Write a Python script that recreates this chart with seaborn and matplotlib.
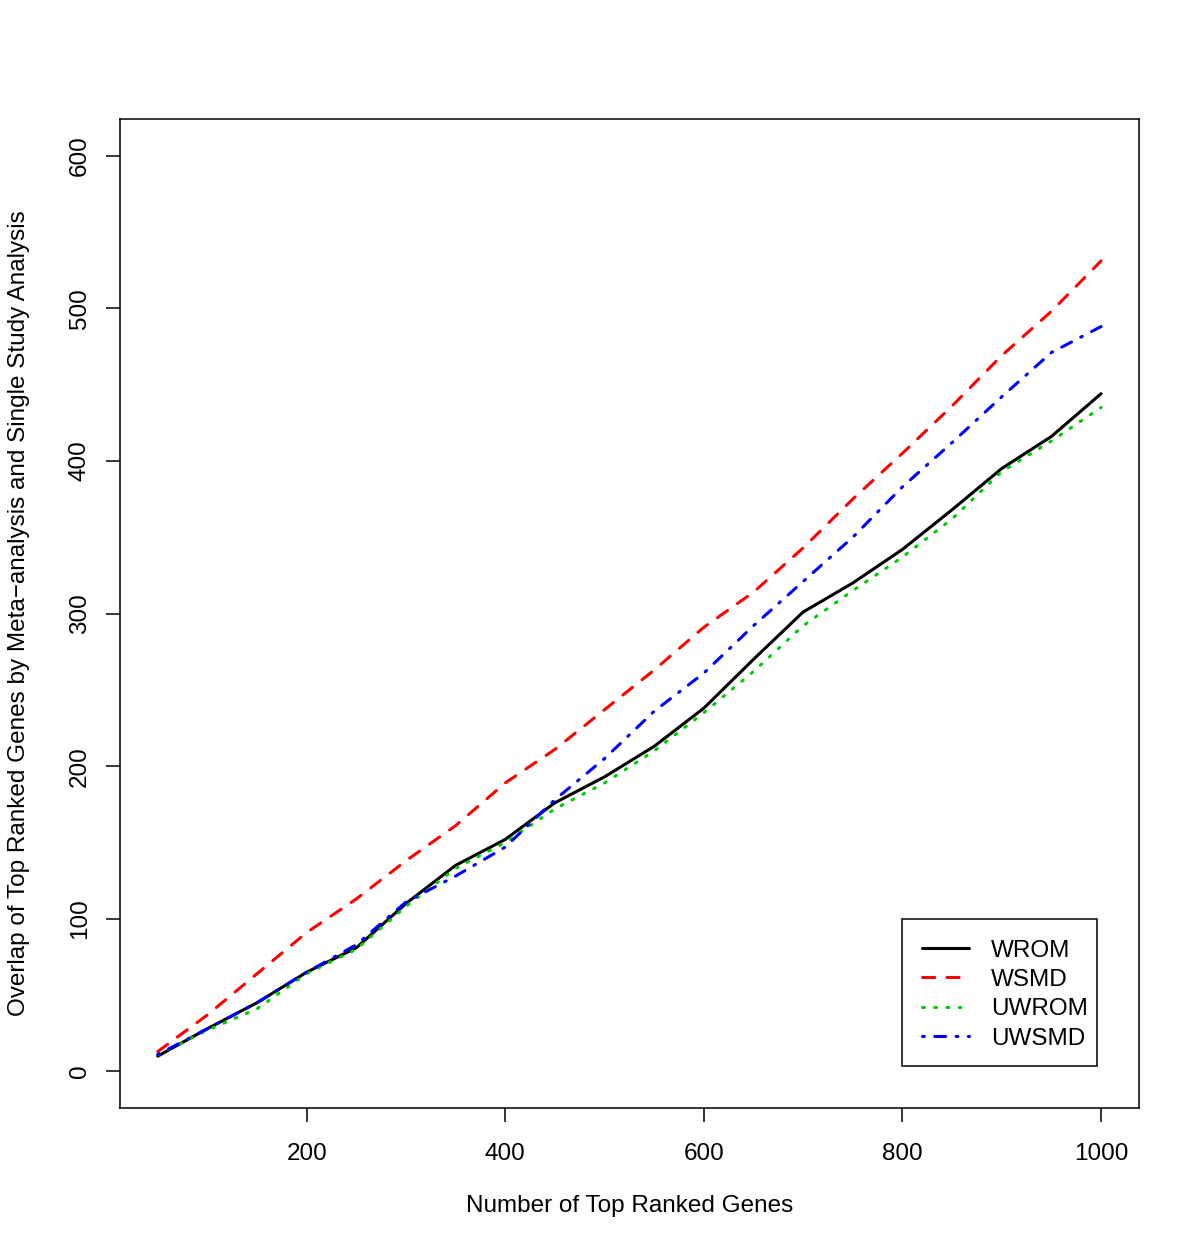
import numpy as np
import pandas as pd
import seaborn as sns
import matplotlib
matplotlib.use("Agg")
import matplotlib.pyplot as plt
from matplotlib.patches import Rectangle

genes = [50, 100, 150, 200, 250, 300, 350, 400, 450, 500,
         550, 600, 650, 700, 750, 800, 850, 900, 950, 1000]
wrom  = [10, 28, 45, 65, 81, 110, 135, 152, 176, 193,
         213, 238, 270, 301, 320, 342, 368, 395, 416, 444]
wsmd  = [13, 37, 64, 91, 113, 138, 161, 189, 211, 237,
         263, 291, 314, 343, 375, 405, 436, 469, 498, 531]
uwrom = [11, 27, 41, 64, 80, 108, 133, 150, 172, 189,
         210, 235, 262, 292, 315, 337, 362, 393, 413, 435]
uwsmd = [11, 28, 45, 65, 83, 111, 128, 147, 178, 205,
         236, 261, 292, 321, 350, 383, 412, 442, 471, 488]

series_names = ["WROM", "WSMD", "UWROM", "UWSMD"]
series_vals = [wrom, wsmd, uwrom, uwsmd]
colors = ["#000000", "#FF0000", "#00CD00", "#0000FF"]
dash_patterns = [None, (4, 4), (0.6, 3.4), (0.6, 3.4, 3.6, 3.4)]

sns.set_theme(style="white")
plt.rcParams['font.family'] = ['Liberation Sans', 'DejaVu Sans']
plt.rcParams['text.color'] = 'black'

FS = 17.5

fig = plt.figure(figsize=(12, 12.59), dpi=100)
ax = fig.add_axes([0.1, 0.1199, 0.849, 0.7856])

lw = 2.2
for name, vals, col, dp in zip(series_names, series_vals, colors, dash_patterns):
    d = pd.DataFrame({"x": genes, "y": vals})
    sns.lineplot(data=d, x="x", y="y", ax=ax, color=col, linewidth=lw, label=name)
    line = ax.lines[-1]
    if dp is not None:
        line.set_dashes(dp)
        line.set_dash_capstyle('round')

ax.set_xlim(12, 1038)
ax.set_ylim(-24, 624)
ax.set_xticks([200, 400, 600, 800, 1000])
ax.set_yticks([0, 100, 200, 300, 400, 500, 600])
ax.set_xticklabels(["200", "400", "600", "800", "1000"])
ax.set_yticklabels(["0", "100", "200", "300", "400", "500", "600"], rotation=90, va="center")

ax.tick_params(axis="both", which="major", direction="out", length=10, width=1.1,
               color="black", labelsize=FS, labelcolor="black", left=True, bottom=True)
ax.tick_params(axis="x", pad=15)
ax.tick_params(axis="y", pad=11)

for s in ax.spines.values():
    s.set_color("black")
    s.set_linewidth(1.1)
    s.set_visible(True)

ax.set_xlabel("Number of Top Ranked Genes", fontsize=FS, color="black")
ax.set_ylabel("Overlap of Top Ranked Genes by Meta\u2212analysis and Single Study Analysis",
              fontsize=FS, color="black")
ax.xaxis.set_label_coords(0.5, -0.088)
ax.yaxis.set_label_coords(-0.088, 0.5)

# legend box (R-style: tight frame)
box = Rectangle((0.768, 0.0425), 0.191, 0.1485, transform=ax.transAxes,
                facecolor="white", edgecolor="black", linewidth=1.1, zorder=4.5)
ax.add_patch(box)

leg = ax.legend(loc="lower left", bbox_to_anchor=(0.768, 0.0395), borderaxespad=0,
                fontsize=FS, frameon=False, handlelength=1.95, handletextpad=0.9,
                labelspacing=0.3, borderpad=0.8)
leg.set_zorder(5)
for t in leg.get_texts():
    t.set_color("black")

fig.savefig("out.png", dpi=100, facecolor="white")
